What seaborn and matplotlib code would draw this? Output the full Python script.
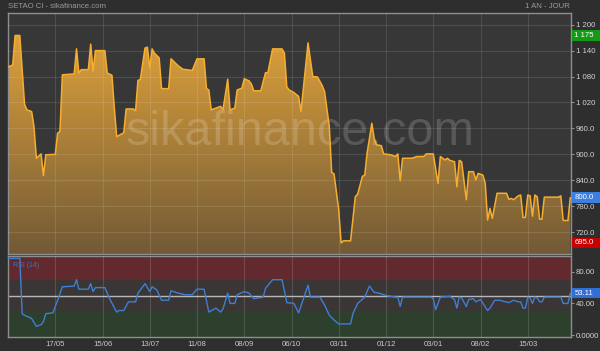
import numpy as np
import pandas as pd
import matplotlib
matplotlib.use("Agg")
import matplotlib.pyplot as plt
import matplotlib.transforms as mtrans
from matplotlib.colors import LinearSegmentedColormap
from matplotlib.patches import Rectangle
import seaborn as sns

# ---------------- data ----------------
days = [0,2,3,5,7,8,10,11,12,14,15,16,20,21,22,23,28,29,30,31,34,35,36,37,41,42,44,45,46,49,
        50,53,54,55,56,58,59,60,61,62,64,65,68,69,72,74,78,80,83,84,85,86,88,90,91,93,94,96,97,99,
        100,102,103,104,107,109,110,112,116,117,118,119,121,123,124,127,129,131,133,134,136,137,138,140,141,142,145,147,148,150,
        151,152,154,155,156,158,159,162,164,165,166,167,171,173,176,177,180,182,183,185,186,187,189,190,191,192,194,195,197,198,
        199,201,202,203,204,205,207,211,212,213,214,216,217,218,219,220,221,222,223,224,225,226,227,233,234,235,237,238]
prices = [1102,1107,1175,1175,1016,1003,999,964,891,901,851,899,900,949,953,1084,1086,1144,1088,1096,1096,1155,1092,1140,1140,1088,1083,1007,941,950,
          1005,1005,1001,1071,1073,1146,1148,1100,1144,1134,1123,1052,1052,1121,1105,1097,1094,1121,1121,1052,1049,1003,1007,1011,1003,1074,1003,1007,1049,1053,
          1075,1070,1063,1047,1047,1089,1089,1144,1144,1134,1056,1049,1043,1034,999,1158,1080,1079,1059,1045,964,858,855,771,695,700,700,802,808,849,
          852,903,972,937,922,920,901,899,895,901,839,891,891,895,895,901,901,833,895,887,891,886,883,825,886,883,795,860,860,841,
          856,852,833,748,775,752,810,810,796,798,795,804,806,754,754,806,804,757,806,802,750,750,801,801,804,747,747,800]

rsi_days = [0,5,6,7,10,12,14,15,16,19,21,23,28,29,30,34,35,36,37,41,43,46,47,49,51,54,55,57,58,60,
            61,63,65,68,69,72,75,78,80,83,85,88,90,91,93,94,96,97,100,102,104,108,109,112,116,118,121,123,127,128,
            132,134,136,138,140,145,146,148,151,153,155,157,160,164,165,166,167,179,180,181,183,187,189,190,191,192,194,195,197,198,
            200,203,204,206,208,212,214,216,217,218,219,220,221,222,223,224,225,226,227,234,235,237,238]
rsi_vals = [97,97,27,25,21,11,13,17,27,28,44,61,62,70,58,58,65,55,60,60,46,29,31,31,42,42,53,61,65,55,
            61,57,44,44,56,53,51,51,58,58,29,34,29,33,53,40,40,51,55,53,46,48,59,70,70,41,40,28,63,48,
            48,38,25,19,14,14,27,40,48,62,54,53,50,48,48,36,48,48,46,32,48,49,45,34,48,47,36,45,46,42,
            45,31,34,44,44,41,44,42,42,34,34,48,47,40,48,47,42,42,48,48,40,40,53]
rsi_last = 53.11

xtick_days = [20,40,60,80,100,120,140,160,180,200,220]
xtick_labels = ["17/05","15/06","13/07","11/08","08/09","06/10","03/11","01/12","03/01","08/02","15/03"]
price_ticks = [720,780,840,900,960,1020,1080,1140,1200]
rsi_ticks = [0,40,80]
rsi_tick_labels = ["0.0000","40.00","80.00"]

title = "SETAO CI - sikafinance.com"
period = "1 AN - JOUR"
watermark = "sikafinance.com"

df = pd.DataFrame({"day": days, "price": prices})
rdf = pd.DataFrame({"day": rsi_days, "rsi": rsi_vals})

# ---------------- style ----------------
sns.set_theme(style="dark")
plt.rcParams["font.family"] = ["Liberation Sans", "DejaVu Sans"]

FS = 5.6
FIG_BG = "#2e2e2e"
AX_BG = "#373737"
W, H = 600, 351
fig = plt.figure(figsize=(6.0, 3.51), dpi=100, facecolor=FIG_BG)

ax = fig.add_axes([8 / W, 1 - 254 / H, 563 / W, 241 / H])
ax2 = fig.add_axes([8 / W, 1 - 337 / H, 563 / W, 81 / H])

XMIN, XMAX = 0, 238.3
YMIN, YMAX = 669.5, 1227
RMIN, RMAX = -2.5, 100

for a in (ax, ax2):
    a.set_facecolor(AX_BG)
    for s in a.spines.values():
        s.set_color("#8e8e8e")
        s.set_linewidth(1.0)

# ---- price panel ----
poly = ax.fill_between(df["day"], df["price"], YMIN, color="none", lw=0)
cmap = LinearSegmentedColormap.from_list("gold", ["#725a36", "#e8a83c"])
grad = np.linspace(0, 1, 256).reshape(-1, 1)
im = ax.imshow(grad, extent=[XMIN, XMAX, YMIN, YMAX], origin="lower",
               aspect="auto", cmap=cmap, zorder=1)
im.set_clip_path(poly.get_paths()[0], transform=ax.transData)

sns.lineplot(data=df, x="day", y="price", ax=ax, color="#f7ae2f", lw=1.1,
             zorder=4, estimator=None, sort=False)

ax.set_xlim(XMIN, XMAX)
ax.set_ylim(YMIN, YMAX)
ax.set_xticks(xtick_days)
ax.set_xticklabels([])
ax.tick_params(axis="x", length=0)
ax.yaxis.tick_right()
ax.set_yticks(price_ticks)

def fmt_price(v):
    if v >= 1000:
        return f"{int(round(v)):,}".replace(",", " ")
    return f"{v:.1f}"

ax.set_yticklabels([fmt_price(v) for v in price_ticks])
ax.tick_params(axis="y", length=2, width=0.8, color="#8e8e8e", pad=1.5,
               labelsize=FS, labelcolor="#d2d2d2")
ax.grid(True, color="white", alpha=0.11, lw=0.8, zorder=2)
ax.set_axisbelow(False)
ax.set_xlabel("")
ax.set_ylabel("")

# watermark
ax.text(123.5, 921, watermark, ha="center", va="baseline", fontsize=35,
        color="white", alpha=0.17, zorder=3)

# value boxes on the right axis
def value_box(a, val, lab, col, half_h):
    tr = mtrans.blended_transform_factory(a.transAxes, a.transData)
    a.add_patch(Rectangle((1.0018, val - half_h), 0.052, 2 * half_h,
                          transform=tr, fc=col, ec="none", clip_on=False, zorder=9))
    a.text(1.0062, val, lab, transform=tr, ha="left", va="center",
           fontsize=FS, color="white", clip_on=False, zorder=10)

py = (YMAX - YMIN) / 241.0
value_box(ax, max(prices), fmt_price(max(prices)), "#159a15", 5.2 * py)
value_box(ax, prices[-1], f"{prices[-1]:.1f}", "#3b7fe0", 5.2 * py)
value_box(ax, min(prices), f"{min(prices):.1f}", "#c80000", 5.2 * py)

# ---- RSI panel ----
ax2.axhspan(70, RMAX, color="#622a2f", zorder=0.5, lw=0)
ax2.axhspan(30, 70, color="#3a3636", zorder=0.5, lw=0)
ax2.axhspan(RMIN, 30, color="#2d3f2d", zorder=0.5, lw=0)
ax2.axhline(50, color="#b8b8b8", lw=1.0, zorder=2)
sns.lineplot(data=rdf, x="day", y="rsi", ax=ax2, color="#3f7fd0", lw=1.0,
             zorder=3, estimator=None, sort=False)
ax2.set_xlim(XMIN, XMAX)
ax2.set_ylim(RMIN, RMAX)
ax2.set_xticks(xtick_days)
ax2.set_xticklabels(xtick_labels)
ax2.tick_params(axis="x", length=0, pad=3, labelsize=FS, labelcolor="#c8c8c8")
ax2.yaxis.tick_right()
ax2.set_yticks(rsi_ticks)
ax2.set_yticklabels(rsi_tick_labels)
ax2.tick_params(axis="y", length=2, width=0.8, color="#8e8e8e", pad=1.5,
                labelsize=FS, labelcolor="#d2d2d2")
ax2.grid(True, axis="x", color="white", alpha=0.14, lw=0.8, zorder=1)
ax2.set_axisbelow(False)
ax2.set_xlabel("")
ax2.set_ylabel("")
ax2.text(0.008, 0.93, "RSI (14)", transform=ax2.transAxes, ha="left", va="top",
         fontsize=5.0, color="#3f6fc0", zorder=5)
ry = (RMAX - RMIN) / 81.0
value_box(ax2, rsi_last, f"{rsi_last:.2f}", "#2f6fd6", 5.2 * ry)

# ---- header texts ----
fig.text(8 / W, 1 - 6 / H, title, ha="left", va="center", fontsize=FS, color="#9a9a9a")
fig.text(570 / W, 1 - 6 / H, period, ha="right", va="center", fontsize=FS, color="#9a9a9a")

fig.savefig("out.png", dpi=100, facecolor=FIG_BG)
